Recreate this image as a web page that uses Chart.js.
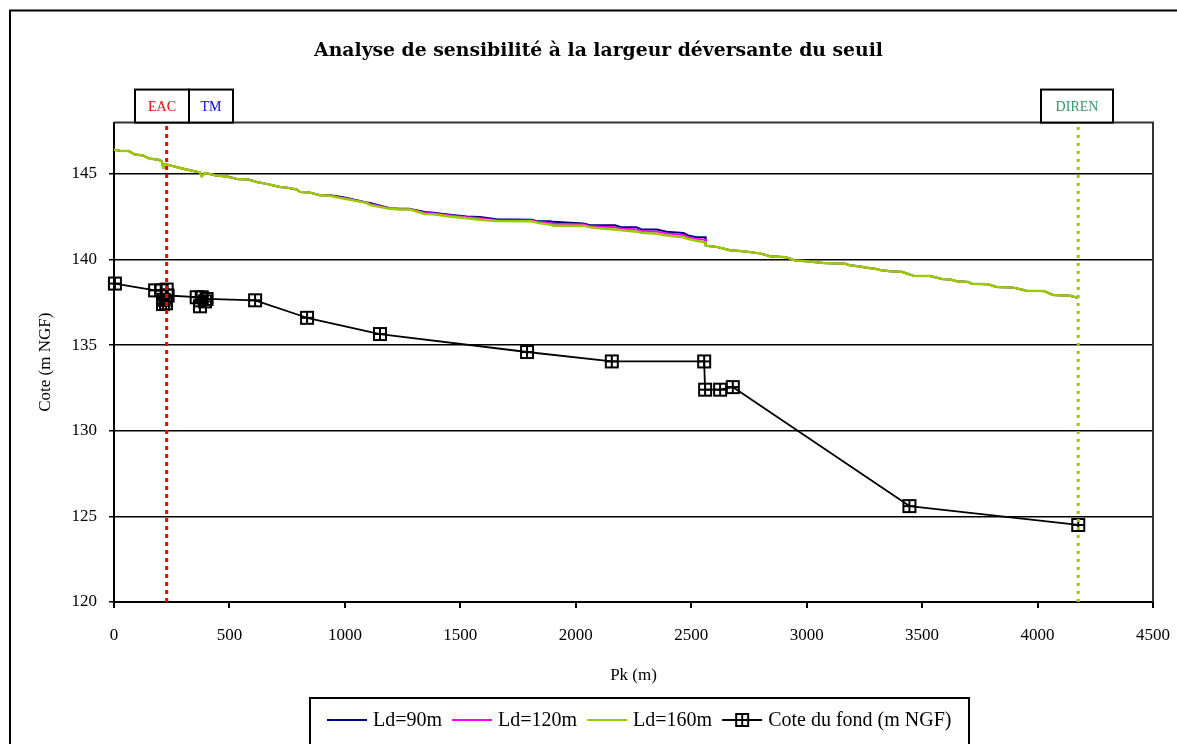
<!DOCTYPE html>
<html lang="fr">
<head>
<meta charset="utf-8">
<title>Analyse de sensibilité à la largeur déversante du seuil</title>
<script src="https://cdn.jsdelivr.net/npm/chart.js@4.4.1/dist/chart.umd.min.js"></script>
<style>
  html, body { margin: 0; padding: 0; background: #fff; overflow: hidden; }
  #wrap { position: relative; width: 1177px; height: 744px; }
</style>
</head>
<body>
<div id="wrap"><canvas id="profil" width="1177" height="744"></canvas></div>
<script>
(function () {
  // Ligne d'eau : pk commun aux trois largeurs déversantes
  const pkEau = [
    0, 26, 62, 91, 127, 156, 192, 207, 214, 221,
    243, 286, 329, 372, 380, 394, 437, 495, 531, 582,
    618, 661, 719, 748, 791, 806, 849, 892, 936, 965,
    993, 1094, 1109, 1195, 1239, 1282, 1347, 1383, 1455, 1528,
    1585, 1657, 1809, 1838, 1888, 1903, 2033, 2062, 2105, 2170,
    2199, 2264, 2285, 2350, 2394, 2466, 2487, 2524, 2560, 2563,
    2610, 2668, 2725, 2798, 2841, 2913, 2949, 3000, 3072, 3166,
    3188, 3231, 3253, 3303, 3317, 3361, 3411, 3462, 3534, 3585,
    3621, 3650, 3700, 3715, 3787, 3823, 3895, 3953, 4025, 4068,
    4140, 4176,
  ];

  const ld90 = [
    146.42, 146.36, 146.34, 146.13, 146.07, 145.88, 145.84, 145.74, 145.35, 145.58,
    145.50, 145.35, 145.21, 145.09, 144.86, 145.06, 144.92, 144.83, 144.71, 144.67,
    144.53, 144.42, 144.24, 144.20, 144.09, 143.95, 143.91, 143.75, 143.76, 143.70,
    143.64, 143.34, 143.30, 143.00, 142.97, 142.96, 142.78, 142.74, 142.62, 142.52,
    142.49, 142.35, 142.33, 142.23, 142.23, 142.20, 142.11, 142.00, 142.00, 142.00,
    141.88, 141.88, 141.76, 141.76, 141.62, 141.55, 141.41, 141.30, 141.30, 140.81,
    140.74, 140.54, 140.48, 140.36, 140.19, 140.13, 139.95, 139.90, 139.80, 139.76,
    139.66, 139.60, 139.53, 139.45, 139.39, 139.31, 139.29, 139.06, 139.04, 138.87,
    138.83, 138.73, 138.69, 138.59, 138.55, 138.40, 138.36, 138.18, 138.17, 137.93,
    137.89, 137.76,
  ];

  const ld120 = [
    146.42, 146.36, 146.34, 146.13, 146.07, 145.88, 145.84, 145.74, 145.35, 145.58,
    145.50, 145.35, 145.21, 145.09, 144.86, 145.06, 144.92, 144.83, 144.71, 144.67,
    144.53, 144.42, 144.24, 144.20, 144.09, 143.95, 143.91, 143.75, 143.74, 143.66,
    143.60, 143.32, 143.24, 142.98, 142.94, 142.94, 142.72, 142.69, 142.57, 142.47,
    142.41, 142.30, 142.28, 142.19, 142.14, 142.09, 142.05, 141.94, 141.91, 141.88,
    141.80, 141.76, 141.66, 141.63, 141.52, 141.43, 141.31, 141.20, 141.15, 140.81,
    140.74, 140.54, 140.48, 140.36, 140.19, 140.13, 139.95, 139.90, 139.80, 139.76,
    139.66, 139.60, 139.53, 139.45, 139.39, 139.31, 139.29, 139.06, 139.04, 138.87,
    138.83, 138.73, 138.69, 138.59, 138.55, 138.40, 138.36, 138.18, 138.17, 137.93,
    137.89, 137.76,
  ];

  const ld160 = [
    146.42, 146.36, 146.34, 146.13, 146.07, 145.88, 145.84, 145.74, 145.35, 145.58,
    145.50, 145.35, 145.21, 145.09, 144.86, 145.06, 144.92, 144.83, 144.71, 144.67,
    144.53, 144.42, 144.24, 144.20, 144.09, 143.95, 143.91, 143.75, 143.73, 143.63,
    143.57, 143.31, 143.19, 142.96, 142.92, 142.92, 142.66, 142.64, 142.51, 142.41,
    142.33, 142.25, 142.23, 142.14, 142.04, 141.98, 141.98, 141.88, 141.82, 141.75,
    141.71, 141.63, 141.56, 141.50, 141.41, 141.30, 141.20, 141.10, 141.00, 140.81,
    140.74, 140.54, 140.48, 140.36, 140.19, 140.13, 139.95, 139.90, 139.80, 139.76,
    139.66, 139.60, 139.53, 139.45, 139.39, 139.31, 139.29, 139.06, 139.04, 138.87,
    138.83, 138.73, 138.69, 138.59, 138.55, 138.40, 138.36, 138.18, 138.17, 137.93,
    137.89, 137.76,
  ];

  // Cote du fond (m NGF)
  const pkFond = [4, 178, 206, 228, 215, 212, 225, 232, 358, 372, 380, 394, 401, 611, 836, 1152, 1789, 2156, 2556, 2560, 2625, 2680, 3445, 4176];
  const coteFond = [138.6, 138.2, 138.2, 138.25, 137.65, 137.4, 137.45, 137.9, 137.8, 137.27, 137.8, 137.56, 137.7, 137.62, 136.6, 135.65, 134.6, 134.05, 134.05, 132.4, 132.4, 132.55, 125.6, 124.5];

  const seriesLabels = ['Ld=90m', 'Ld=120m', 'Ld=160m', 'Cote du fond (m NGF)'];
  const repereLabels = ['EAC', 'TM', 'DIREN'];
  const pkEAC = 228;
  const pkDIREN = 4176;
  const xTicks = [0, 500, 1000, 1500, 2000, 2500, 3000, 3500, 4000, 4500];
  const yTicks = [120, 125, 130, 135, 140, 145];

  const serif = '"Liberation Serif", "Times New Roman", serif';
  const axisFont = { family: serif, size: 17 };

  function toPoints(xs, ys) {
    return xs.map((x, i) => ({ x, y: ys[i] }));
  }

  function buildMarker() {
    const c = document.createElement('canvas');
    c.width = 16;
    c.height = 16;
    const g = c.getContext('2d');
    g.strokeStyle = '#000';
    g.lineWidth = 2;
    g.strokeRect(2, 2, 12, 12);
    g.beginPath();
    g.moveTo(8, 2);
    g.lineTo(8, 14);
    g.moveTo(2, 8);
    g.lineTo(14, 8);
    g.stroke();
    return c;
  }

  const marker = buildMarker();

  // cadre extérieur + bord haut/droit de la zone de tracé
  const frames = {
    id: 'frames',
    beforeDraw(chart) {
      const { ctx } = chart;
      ctx.save();
      ctx.fillStyle = '#fff';
      ctx.fillRect(0, 0, chart.width, chart.height);
      ctx.strokeStyle = '#000';
      ctx.lineWidth = 2;
      ctx.strokeRect(10, 10.5, 3000, 3000);
      ctx.restore();
    },
    afterDatasetsDraw(chart) {
      const { ctx, chartArea } = chart;
      ctx.save();
      ctx.strokeStyle = '#333';
      ctx.lineWidth = 2;
      ctx.beginPath();
      ctx.moveTo(chartArea.left, chartArea.top);
      ctx.lineTo(chartArea.right, chartArea.top);
      ctx.lineTo(chartArea.right, chartArea.bottom);
      ctx.stroke();
      ctx.restore();
    },
  };

  // étiquettes EAC / TM / DIREN au-dessus de la zone de tracé
  const reperes = {
    id: 'reperes',
    afterDraw(chart, args, opts) {
      const { ctx, chartArea, scales } = chart;
      const xs = scales.x;
      ctx.save();
      ctx.font = `14px ${serif}`;
      ctx.textAlign = 'center';
      ctx.textBaseline = 'middle';
      opts.boxes.forEach((b, i) => {
        const left = Math.round(xs.getPixelForValue(b.from));
        const right = Math.round(xs.getPixelForValue(b.to));
        const top = chartArea.top - opts.height;
        ctx.fillStyle = '#fff';
        ctx.fillRect(left, top, right - left, opts.height);
        ctx.strokeStyle = '#000';
        ctx.lineWidth = 2;
        ctx.strokeRect(left, top, right - left, opts.height);
        ctx.fillStyle = b.color;
        ctx.fillText(repereLabels[i], (left + right) / 2, top + opts.height / 2 + 1);
      });
      ctx.restore();
    },
  };

  // légende encadrée en bas
  const legendeBas = {
    id: 'legendeBas',
    afterDraw(chart, args, opts) {
      const { ctx } = chart;
      const items = chart.data.datasets.slice(0, seriesLabels.length);
      ctx.save();
      ctx.font = `20px ${serif}`;
      const lineLen = 40;
      const gapText = 6;
      const gapItem = 10;
      const widths = items.map((ds) => lineLen + gapText + ctx.measureText(ds.label).width);
      const total = widths.reduce((a, b) => a + b, 0) + gapItem * (items.length - 1);
      const boxL = opts.left;
      const boxW = opts.right - opts.left;
      ctx.strokeStyle = '#000';
      ctx.lineWidth = 2;
      ctx.strokeRect(boxL, opts.top, boxW, 100);
      let x = Math.round(boxL + (boxW - total) / 2);
      const y = opts.top + 22;
      items.forEach((ds, i) => {
        ctx.strokeStyle = ds.borderColor;
        ctx.lineWidth = 2;
        ctx.beginPath();
        ctx.moveTo(x, y);
        ctx.lineTo(x + lineLen, y);
        ctx.stroke();
        if (ds.pointStyle === marker) {
          ctx.drawImage(marker, x + lineLen / 2 - 8, y - 8);
        }
        ctx.fillStyle = '#000';
        ctx.textAlign = 'left';
        ctx.textBaseline = 'middle';
        ctx.fillText(ds.label, x + lineLen + gapText, y + 1);
        x += widths[i] + gapItem;
      });
      ctx.restore();
    },
  };

  const canvas = document.getElementById('profil');

  new Chart(canvas, {
    type: 'line',
    data: {
      datasets: [
        {
          label: seriesLabels[0],
          data: toPoints(pkEau, ld90),
          borderColor: '#000080',
          borderWidth: 2,
          borderJoinStyle: 'round',
          pointRadius: 0,
          tension: 0,
          order: 5,
        },
        {
          label: seriesLabels[1],
          data: toPoints(pkEau, ld120),
          borderColor: '#FF00FF',
          borderWidth: 2,
          borderJoinStyle: 'round',
          pointRadius: 0,
          tension: 0,
          order: 4,
        },
        {
          label: seriesLabels[2],
          data: toPoints(pkEau, ld160),
          borderColor: '#99CC00',
          borderWidth: 2.5,
          borderJoinStyle: 'round',
          pointRadius: 0,
          tension: 0,
          order: 3,
        },
        {
          label: seriesLabels[3],
          data: toPoints(pkFond, coteFond),
          borderColor: '#000',
          borderWidth: 1.8,
          borderJoinStyle: 'round',
          pointStyle: marker,
          pointRadius: 8,
          tension: 0,
          clip: false,
          order: 2,
        },
        {
          label: 'EAC',
          data: [{ x: pkEAC, y: 120 }, { x: pkEAC, y: 148 }],
          borderColor: '#FF0000',
          borderWidth: 3,
          borderDash: [4, 4],
          pointRadius: 0,
          order: 1,
        },
        {
          label: 'DIREN',
          data: [{ x: pkDIREN, y: 120 }, { x: pkDIREN, y: 148 }],
          borderColor: '#99CC00',
          borderWidth: 3,
          borderDash: [3, 5],
          pointRadius: 0,
          order: 1,
        },
      ],
    },
    options: {
      responsive: false,
      animation: false,
      events: [],
      layout: { padding: { left: 44, right: 24, top: 0, bottom: 52 } },
      plugins: {
        legend: { display: false },
        tooltip: { enabled: false },
        title: {
          display: true,
          text: 'Analyse de sensibilité à la largeur déversante du seuil',
          color: '#000',
          font: { family: '"DejaVu Serif", serif', size: 18.8, weight: 'bold' },
          padding: { top: 40, bottom: 60 },
        },
        reperes: {
          height: 33,
          boxes: [
            { from: 91, to: 325, color: '#FF0000' },
            { from: 325, to: 515, color: '#0000FF' },
            { from: 4015, to: 4327, color: '#339966' },
          ],
        },
        legendeBas: { top: 698, left: 310, right: 969 },
      },
      scales: {
        x: {
          type: 'linear',
          min: xTicks[0],
          max: xTicks[xTicks.length - 1],
          afterBuildTicks(scale) {
            scale.ticks = xTicks.map((v) => ({ value: v }));
          },
          afterFit(scale) {
            scale.height = 90;
            scale.paddingLeft = 0;
            scale.paddingRight = 0;
          },
          ticks: {
            color: '#000',
            font: axisFont,
            padding: 17,
            maxRotation: 0,
            callback: (v) => String(v),
          },
          grid: { drawOnChartArea: false, tickLength: 6, color: '#000', lineWidth: 2 },
          border: { color: '#000', width: 2 },
          title: { display: true, text: 'Pk (m)', color: '#000', font: axisFont, padding: { top: 0, bottom: 6 } },
        },
        y: {
          min: 120,
          max: 148,
          afterBuildTicks(scale) {
            scale.ticks = yTicks.map((v) => ({ value: v }));
          },
          afterFit(scale) {
            scale.width = 70;
          },
          ticks: {
            color: '#000',
            font: axisFont,
            padding: 12,
            callback: (v) => String(v),
          },
          grid: { color: '#000', lineWidth: 1.5, tickLength: 5 },
          border: { color: '#000', width: 2 },
          title: { display: true, text: 'Cote (m NGF)', color: '#000', font: axisFont, padding: { top: -9, bottom: 0 } },
        },
      },
    },
    plugins: [frames, reperes, legendeBas],
  });
})();
</script>
</body>
</html>
